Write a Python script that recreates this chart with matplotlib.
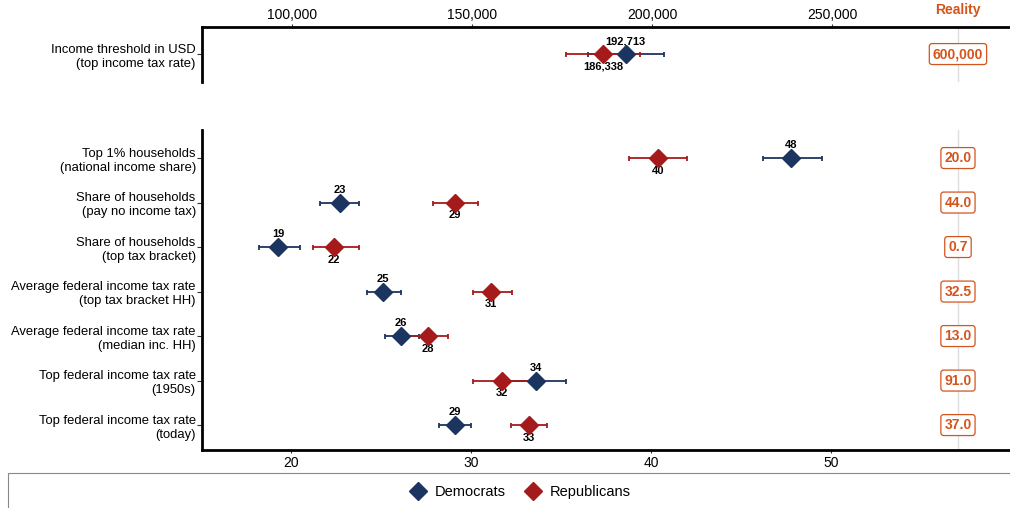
import numpy as np
import matplotlib.pyplot as plt
from matplotlib.patches import Rectangle
from matplotlib.lines import Line2D
from matplotlib.transforms import blended_transform_factory

plt.rcParams['font.family'] = ['Liberation Sans', 'DejaVu Sans']

# --- data ---
top_label = 'Income threshold in USD\n(top income tax rate)'
top_dem = 192713
top_dem_ci = (182200, 203300)
top_rep = 186338
top_rep_ci = (176100, 196700)
top_reality = '600,000'

rows = ['Top 1% households\n(national income share)',
        'Share of households\n(pay no income tax)',
        'Share of households\n(top tax bracket)',
        'Average federal income tax rate\n(top tax bracket HH)',
        'Average federal income tax rate\n(median inc. HH)',
        'Top federal income tax rate\n(1950s)',
        'Top federal income tax rate\n(today)']
dem = [47.8, 22.7, 19.3, 25.1, 26.1, 33.6, 29.1]
dem_lo = [46.2, 21.6, 18.2, 24.2, 25.2, 32.0, 28.2]
dem_hi = [49.5, 23.8, 20.5, 26.1, 27.1, 35.3, 30.0]
rep = [40.4, 29.1, 22.4, 31.1, 27.6, 31.7, 33.2]
rep_lo = [38.8, 27.9, 21.2, 30.1, 26.5, 30.1, 32.2]
rep_hi = [42.0, 30.4, 23.8, 32.3, 28.7, 33.4, 34.2]
reality = ['20.0', '44.0', '0.7', '32.5', '13.0', '91.0', '37.0']

DEM_C = '#1c3560'
REP_C = '#a51b1b'
ORANGE = '#d4541c'
REAL_X = 0.9356  # axes fraction of the "Reality" column

fig = plt.figure(figsize=(10.1, 5.08), dpi=100)
L, R = 202 / 1010, 1.0
ax_top = fig.add_axes([L, 1 - 82 / 508, R - L, 55 / 508])
ax = fig.add_axes([L, 1 - 450 / 508, R - L, 320 / 508])


def draw_pair(a, y, d, dlo, dhi, r, rlo, rhi, dtxt, rtxt):
    a.errorbar([d], [y], xerr=[[d - dlo], [dhi - d]], fmt='D', color=DEM_C,
               ms=9, lw=1.3, capsize=1.8, capthick=1.3, zorder=3)
    a.errorbar([r], [y], xerr=[[r - rlo], [rhi - r]], fmt='D', color=REP_C,
               ms=9, lw=1.3, capsize=1.8, capthick=1.3, zorder=3)
    a.annotate(dtxt, (d, y), xytext=(0, 5.5), textcoords='offset points',
               ha='center', va='bottom', fontsize=8, fontweight='bold')
    a.annotate(rtxt, (r, y), xytext=(0, -5.5), textcoords='offset points',
               ha='center', va='top', fontsize=8, fontweight='bold')


# top panel
draw_pair(ax_top, 0, top_dem, *top_dem_ci, top_rep, *top_rep_ci,
          f'{top_dem:,}', f'{top_rep:,}')
ax_top.set_xlim(75000, 299444)
ax_top.set_ylim(0.63, -0.61)
ax_top.set_yticks([0])
ax_top.set_yticklabels([top_label], fontsize=9.4, linespacing=1.25)
ax_top.xaxis.tick_top()
ax_top.set_xticks([100000, 150000, 200000, 250000])
ax_top.set_xticklabels(['100,000', '150,000', '200,000', '250,000'], fontsize=10)

# bottom panel
ypos = np.arange(len(rows))
for i in range(len(rows)):
    draw_pair(ax, ypos[i], dem[i], dem_lo[i], dem_hi[i],
              rep[i], rep_lo[i], rep_hi[i], f'{dem[i]:.0f}', f'{rep[i]:.0f}')
ax.set_xlim(15.06, 59.94)
ax.set_ylim(6.56, -0.63)
ax.set_yticks(ypos)
ax.set_yticklabels(rows, fontsize=9.4, linespacing=1.25)
ax.set_xticks([20, 30, 40, 50])
ax.tick_params(axis='x', labelsize=10)

for a in (ax_top, ax):
    for s in a.spines.values():
        s.set_visible(False)
    a.tick_params(axis='y', length=3.5, width=0.8, color='#333333', pad=1)
    a.tick_params(axis='x', length=2.5, width=0.8, color='#333333', pad=2)
    a.plot([REAL_X, REAL_X], [0, 1], transform=a.transAxes,
           color='#dddddd', lw=1, zorder=0)
ax_top.tick_params(axis='x', pad=1)
for s in [ax_top.spines['top'], ax_top.spines['left'],
          ax.spines['bottom'], ax.spines['left']]:
    s.set_visible(True)
    s.set_linewidth(2)
    s.set_color('black')

box = dict(boxstyle='round,pad=0.25,rounding_size=0.2', fc='white',
           ec=ORANGE, lw=0.9)
ax_top.text(REAL_X, 0, top_reality,
            transform=blended_transform_factory(ax_top.transAxes, ax_top.transData),
            ha='center', va='center', fontsize=10, fontweight='bold',
            color=ORANGE, bbox=box)
for i, txt in enumerate(reality):
    ax.text(REAL_X, ypos[i], txt,
            transform=blended_transform_factory(ax.transAxes, ax.transData),
            ha='center', va='center', fontsize=10, fontweight='bold',
            color=ORANGE, bbox=box)
fig.text(958 / 1010, 1 - 10 / 508, 'Reality', ha='center', va='center',
         fontsize=10, fontweight='bold', color=ORANGE)

# legend
fig.patches.append(Rectangle((8 / 1010, -0.02), 1.1, (508 - 473) / 508 + 0.02,
                             transform=fig.transFigure, fill=False,
                             ec='#888888', lw=0.8))
handles = [Line2D([], [], marker='D', ls='', color=DEM_C, ms=9),
           Line2D([], [], marker='D', ls='', color=REP_C, ms=9)]
fig.legend(handles, ['Democrats', 'Republicans'], loc='center',
           bbox_to_anchor=(520 / 1010, 1 - 492 / 508), ncol=2, frameon=False,
           fontsize=10.5, handletextpad=0.5, columnspacing=1.3, handlelength=1.2)

fig.savefig('out.png', dpi=100)
